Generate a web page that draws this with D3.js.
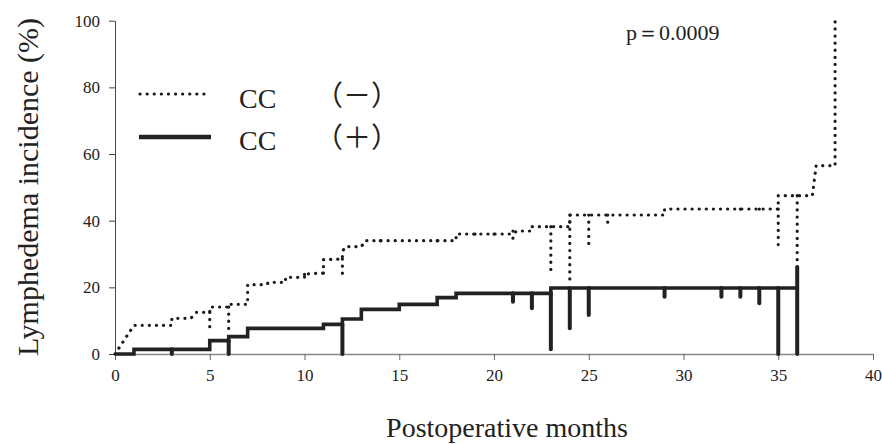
<!DOCTYPE html>
<html>
<head>
<meta charset="utf-8">
<script src="https://cdn.jsdelivr.net/npm/d3@7"></script>
<style>
  body { margin: 0; background: #fff; }
  svg text { font-family: "Liberation Serif", "Times New Roman", serif; fill: #222; }
</style>
</head>
<body>
<svg id="chart" width="882" height="444"></svg>
<script>
// step curves: [month, incidence %]
const ccMinusPath = [[0,0],[1,8.6],[3,8.6],[3,10.7],[4,10.7],[4.3,12.5],[5,12.5],[5,14.1],[6,14.1],[6,14.9],
  [7,14.9],[7,20.8],[8,20.8],[8.1,21.5],[9,21.5],[9,23],[10,23],[10,24],[11,24.3],[11,28.3],[12,28.5],
  [12,30.7],[12.15,32.2],[13,32.2],[13.2,34],[18,34],[18,36],[21,36],[21.2,36.9],[22,36.9],[22,38.2],
  [24,38.2],[24,41.7],[29,41.7],[29,43.5],[35,43.5],[35,47.5],[36.8,47.5],[37,56.5],[38,56.5],[38,100]];
const ccPlusPath = [[0,0],[1,0],[1,1.4],[5,1.4],[5,4],[6,4],[6,5.2],[7,5.2],[7,7.7],[11,7.7],[11,8.9],
  [12,8.9],[12,10.5],[13,10.5],[13,13.4],[15,13.4],[15,14.9],[17,14.9],[17,16.9],[18,16.9],[18,18.2],
  [23,18.2],[23,19.8],[36,19.8]];

// censor marks: [month, top %, bottom %]
const ccMinusCensor = [[5,12.5,8.2],[6,14.1,7.2],[10,23.9,22.5],[11,24.3,23.5],[12,28.5,24.2],[14,34,32.7],
  [17,34,32.7],[19,36,34.5],[20,36,34.4],[21,36.9,33.7],[23,38.2,25.2],[24,41.7,22],[25,41.7,32.7],
  [26,41.7,38.7],[33,43.5,42.7],[34,43.5,41.9],[35,43.5,31.7],[36,47.5,25.7]];
const ccPlusCensor = [[3,1.4,0],[6,4,0],[12,8.9,0],[21,18.2,15.7],[22,18.2,13.7],[23,18.2,1.4],
  [24,19.8,7.7],[25,19.8,11.7],[29,19.8,17.2],[32,19.8,17.2],[33,19.8,17.2],[34,19.8,15.2],
  [35,19.8,0],[36,26,0]];

const xTicks = [0,5,10,15,20,25,30,35,40];
const yTicks = [0,20,40,60,80,100];
const legendLabels = ["CC", "CC"];
const legendSigns = ["（－）", "（＋）"];
const pValue = "p＝0.0009";

const svg = d3.select("#chart");
const serif = "'Liberation Serif', 'Times New Roman', serif";

const x = d3.scaleLinear().domain([0, 40]).range([115, 873]);
const y = d3.scaleLinear().domain([0, 100]).range([354, 20.7]);

// axes (d3 puts sans-serif on the group, so reset it on the labels)
const xAxis = svg.append("g")
    .attr("transform", `translate(0,${y(0)})`)
    .call(d3.axisBottom(x).tickValues(xTicks).tickSize(6).tickSizeOuter(0).tickPadding(9));
xAxis.select(".domain").attr("stroke", "#888").attr("stroke-width", 1.5);
xAxis.selectAll(".tick line").attr("stroke", "#666");
xAxis.selectAll(".tick text")
    .style("font-family", serif).style("font-size", "17px").attr("fill", "#222");

const yAxis = svg.append("g")
    .attr("transform", `translate(${x(0)},0)`)
    .call(d3.axisLeft(y).tickValues(yTicks).tickSize(6).tickSizeOuter(0).tickPadding(9));
yAxis.select(".domain").attr("stroke", "#444");
yAxis.selectAll(".tick line").attr("stroke", "#444");
yAxis.selectAll(".tick text")
    .style("font-family", serif).style("font-size", "17px").attr("fill", "#222");

const line = d3.line().x(d => x(d[0])).y(d => y(d[1]));
const dotted = "0.1 7";
const dotWidth = 3.2;

// CC (-) dotted curve
svg.append("path")
    .datum(ccMinusPath)
    .attr("d", line)
    .attr("fill", "none")
    .attr("stroke", "#1a1a1a")
    .attr("stroke-width", dotWidth)
    .attr("stroke-linecap", "round")
    .attr("stroke-dasharray", dotted);

svg.selectAll(".censor-minus")
    .data(ccMinusCensor)
    .join("path")
    .attr("class", "censor-minus")
    .attr("d", d => line([[d[0], d[1]], [d[0], d[2]]]))
    .attr("fill", "none")
    .attr("stroke", "#1a1a1a")
    .attr("stroke-width", dotWidth)
    .attr("stroke-linecap", "round")
    .attr("stroke-dasharray", dotted);

// CC (+) solid curve
svg.append("path")
    .datum(ccPlusPath)
    .attr("d", line)
    .attr("fill", "none")
    .attr("stroke", "#222")
    .attr("stroke-width", 3.6);

svg.selectAll(".censor-plus")
    .data(ccPlusCensor)
    .join("line")
    .attr("class", "censor-plus")
    .attr("x1", d => x(d[0])).attr("x2", d => x(d[0]))
    .attr("y1", d => y(d[1])).attr("y2", d => y(d[2]))
    .attr("stroke", "#222")
    .attr("stroke-width", 4)
    .attr("stroke-linecap", "round");

// legend
const legend = svg.append("g");
legend.append("line")
    .attr("x1", 140).attr("x2", 211).attr("y1", 94).attr("y2", 94)
    .attr("stroke", "#1a1a1a").attr("stroke-width", dotWidth)
    .attr("stroke-linecap", "round").attr("stroke-dasharray", dotted);
legend.append("line")
    .attr("x1", 139).attr("x2", 211).attr("y1", 137).attr("y2", 137)
    .attr("stroke", "#222").attr("stroke-width", 4.5);
legend.selectAll(".lab")
    .data(legendLabels)
    .join("text")
    .attr("class", "lab")
    .attr("x", 239)
    .attr("y", (d, i) => 108 + i * 42)
    .style("font-size", "28px")
    .text(d => d);
legend.selectAll(".sign")
    .data(legendSigns)
    .join("text")
    .attr("class", "sign")
    .attr("x", 315)
    .attr("y", (d, i) => 106 + i * 42)
    .style("font-size", "28px")
    .style("font-family", "'Noto Sans CJK JP', serif")
    .style("font-weight", 400)
    .text(d => d);

// p value
svg.append("text")
    .attr("x", 626)
    .attr("y", 40)
    .style("font-size", "22px")
    .text(pValue);

// axis titles
svg.append("text")
    .attr("x", 507)
    .attr("y", 437)
    .attr("text-anchor", "middle")
    .style("font-size", "28px")
    .text("Postoperative months");

svg.append("text")
    .attr("transform", "translate(38,187) rotate(-90)")
    .attr("text-anchor", "middle")
    .style("font-size", "30px")
    .text("Lymphedema incidence (%)");
</script>
</body>
</html>
